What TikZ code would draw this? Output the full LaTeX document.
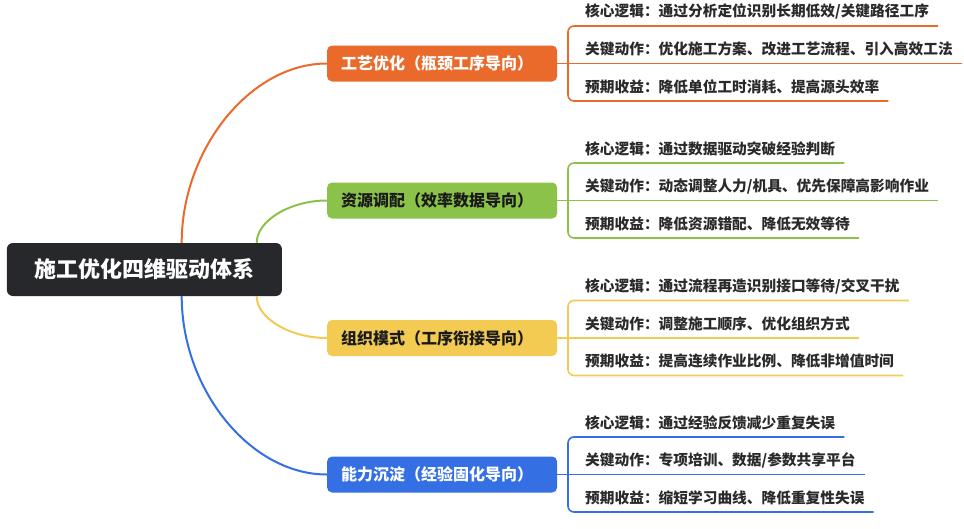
\documentclass[tikz,border=0pt]{standalone}
\usepackage{fontspec}
\setmainfont{Noto Sans CJK SC}
\usetikzlibrary{calc}
\definecolor{cRoot}{HTML}{27282C}
\definecolor{cOr}{HTML}{EA6A2C}
\definecolor{cGr}{HTML}{8BC34A}
\definecolor{cYe}{HTML}{F3CB52}
\definecolor{cBl}{HTML}{346FE3}
\definecolor{cLeaf}{HTML}{2A2A2A}
\definecolor{cDark}{HTML}{1A1A1A}
\tikzset{
  rootbox/.style={fill=cRoot, rounded corners=6pt, minimum width=275pt, minimum height=53pt,
    text=white, font=\fontsize{22}{26}\selectfont\bfseries, inner sep=0pt},
  branchbox/.style={rounded corners=5pt, text width=202pt, inner xsep=14pt, inner ysep=0pt,
    minimum height=36pt, align=left, font=\fontsize{16}{19}\selectfont\bfseries},
  leaf/.style={anchor=west, inner sep=0pt, font=\fontsize{14.7}{17}\selectfont\bfseries, text=cLeaf},
  link/.style={line width=2pt},
  leafline/.style={line width=1.6pt, rounded corners=6pt},
}
\newcommand\branchgroup[8]{%
  \node[branchbox, fill=#3, text=#4] (#1) at (442.1,#2) {#5};
  \node[leaf] (#1a) at (585,#2-52) {#6};
  \node[leaf] (#1b) at (585,#2-14.5) {#7};
  \node[leaf] (#1c) at (585,#2+23) {#8};
  \draw[leafline, draw=#3] (#1.east) -- ($(#1b.east)+(9,14.5)$);
  \draw[leafline, draw=#3] ($(#1a.east)+(9,14.5)$) -- (568,#2-37.5) -- (568,#2+37.5) -- ($(#1c.east)+(9,14.5)$);
}
\begin{document}
\begin{tikzpicture}[x=1pt, y=-1pt]
\useasboundingbox (0,0) rectangle (964,528);
\node[rootbox] (root) at (144.4,269.5) {施工优化四维驱动体系};
\branchgroup{b1}{63.5}{cOr}{white}{工艺优化（瓶颈工序导向）}%
  {核心逻辑：通过分析定位识别长期低效/关键路径工序}%
  {关键动作：优化施工方案、改进工艺流程、引入高效工法}%
  {预期收益：降低单位工时消耗、提高源头效率}
\branchgroup{b2}{200.5}{cGr}{cDark}{资源调配（效率数据导向）}%
  {核心逻辑：通过数据驱动突破经验判断}%
  {关键动作：动态调整人力/机具、优先保障高影响作业}%
  {预期收益：降低资源错配、降低无效等待}
\branchgroup{b3}{338}{cYe}{cDark}{组织模式（工序衔接导向）}%
  {核心逻辑：通过流程再造识别接口等待/交叉干扰}%
  {关键动作：调整施工顺序、优化组织方式}%
  {预期收益：提高连续作业比例、降低非增值时间}
\branchgroup{b4}{474.5}{cBl}{white}{能力沉淀（经验固化导向）}%
  {核心逻辑：通过经验反馈减少重复失误}%
  {关键动作：专项培训、数据/参数共享平台}%
  {预期收益：缩短学习曲线、降低重复性失误}
\draw[link, cOr] ($(root.north west)+(175,0)$) .. controls +(0,-93) and +(-77,0) .. (b1.west);
\draw[link, cGr] ($(root.north west)+(250,0)$) .. controls +(0,-22) and +(-37,0) .. (b2.west);
\draw[link, cYe] ($(root.south west)+(250,0)$) .. controls +(0,22) and +(-37,0) .. (b3.west);
\draw[link, cBl] ($(root.south west)+(175,0)$) .. controls +(0,93) and +(-77,0) .. (b4.west);
\end{tikzpicture}
\end{document}
